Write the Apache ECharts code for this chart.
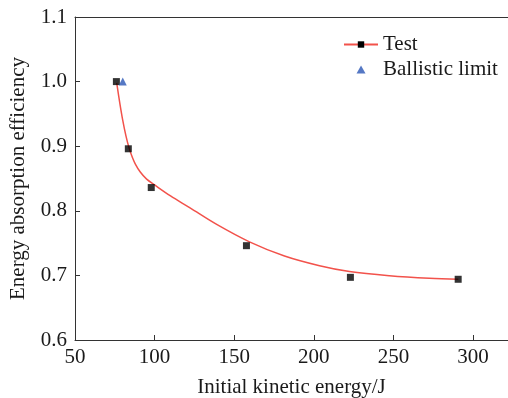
<!DOCTYPE html>
<html>
<head>
<meta charset="utf-8">
<script src="https://cdn.jsdelivr.net/npm/echarts@6/dist/echarts.min.js"></script>
<style>
  html, body { margin: 0; padding: 0; background: #fff; }
  #chart { width: 508px; height: 398px; }
</style>
</head>
<body>
<div id="chart"></div>
<script>
// measured points
const testEnergy = [76.0, 83.5, 97.9, 157.7, 223.0, 290.7]
const testEfficiency = [1.0, 0.896, 0.836, 0.746, 0.697, 0.694]
const ballisticEnergy = [80.0]
const ballisticEfficiency = [1.0]

// fitted curve
const fitEnergy = [76.2, 78, 80, 82, 84, 86, 88, 91, 95, 100, 110, 122, 139, 159.6, 181.6, 203.6, 222.4, 247.5, 272.6, 290.8]
const fitEfficiency = [0.998, 0.969, 0.940, 0.916, 0.897, 0.883, 0.872, 0.860, 0.849, 0.840, 0.823, 0.805, 0.779, 0.752, 0.730, 0.715, 0.706, 0.6995, 0.6955, 0.694]

const xTicks = [50, 100, 150, 200, 250, 300]
const yTicks = [0.6, 0.7, 0.8, 0.9, 1.0, 1.1]

const zip = (xs, ys) => xs.map((x, i) => [x, ys[i]])

const font = "'Liberation Serif', 'DejaVu Serif', serif"
const textColor = '#1a1a1a'
const axisColor = '#333'

const chart = echarts.init(document.getElementById('chart'))

chart.setOption({
  animation: false,
  textStyle: { fontFamily: font },
  grid: { left: 75, top: 17, right: 0, bottom: 58, containLabel: false, outerBoundsMode: 'none' },
  legend: {
    data: [
      { name: 'Test' },
      // path icon so the triangle keeps its shape inside the wide legend box
      { name: 'Ballistic limit', icon: 'path://M4.5,0 L9,8 L0,8 Z' }
    ],
    orient: 'vertical',
    left: 338,
    top: 29,
    itemWidth: 34,
    itemHeight: 8,
    itemGap: 4,
    symbolKeepAspect: true,
    textStyle: { fontFamily: font, fontSize: 21, color: textColor }
  },
  xAxis: [
    {
      type: 'value',
      min: xTicks[0],
      max: 322,
      interval: 50,
      name: 'Initial kinetic energy/J',
      nameLocation: 'middle',
      nameGap: 37,
      nameTextStyle: { fontFamily: font, fontSize: 21, color: textColor },
      axisLine: { lineStyle: { color: axisColor, width: 1 } },
      axisTick: { inside: true, length: 5, lineStyle: { color: axisColor } },
      axisLabel: {
        fontFamily: font, fontSize: 21, color: textColor, margin: 7,
        showMaxLabel: false,
        formatter: v => xTicks.includes(v) ? String(v) : ''
      },
      splitLine: { show: false }
    },
    {
      type: 'value',
      position: 'top',
      min: xTicks[0],
      max: 322,
      axisLine: { lineStyle: { color: axisColor, width: 1 } },
      axisTick: { show: false },
      axisLabel: { show: false },
      splitLine: { show: false }
    }
  ],
  yAxis: {
    type: 'value',
    min: yTicks[0],
    max: yTicks[yTicks.length - 1],
    interval: 0.1,
    name: 'Energy absorption efficiency',
    nameLocation: 'middle',
    nameGap: 46,
    nameTextStyle: { fontFamily: font, fontSize: 21, color: textColor },
    axisLine: { show: true, lineStyle: { color: axisColor, width: 1 } },
    axisTick: { show: true, inside: true, length: 5, lineStyle: { color: axisColor } },
    axisLabel: {
      fontFamily: font, fontSize: 21, color: textColor, margin: 8,
      formatter: v => v.toFixed(1)
    },
    splitLine: { show: false }
  },
  series: [
    {
      name: 'Test',
      type: 'line',
      data: zip(fitEnergy, fitEfficiency),
      smooth: 0.35,
      showSymbol: false,
      symbol: 'rect',
      itemStyle: { color: '#000' },
      lineStyle: { color: '#f2524b', width: 1.5 },
      z: 2
    },
    {
      name: 'Test points',
      type: 'scatter',
      data: zip(testEnergy, testEfficiency),
      symbol: 'rect',
      symbolSize: 7,
      itemStyle: { color: '#000' },
      z: 3
    },
    {
      name: 'Ballistic limit',
      type: 'scatter',
      data: zip(ballisticEnergy, ballisticEfficiency),
      symbol: 'triangle',
      symbolSize: 8,
      itemStyle: { color: '#2a56b5' },
      z: 4
    }
  ]
})
</script>
</body>
</html>
